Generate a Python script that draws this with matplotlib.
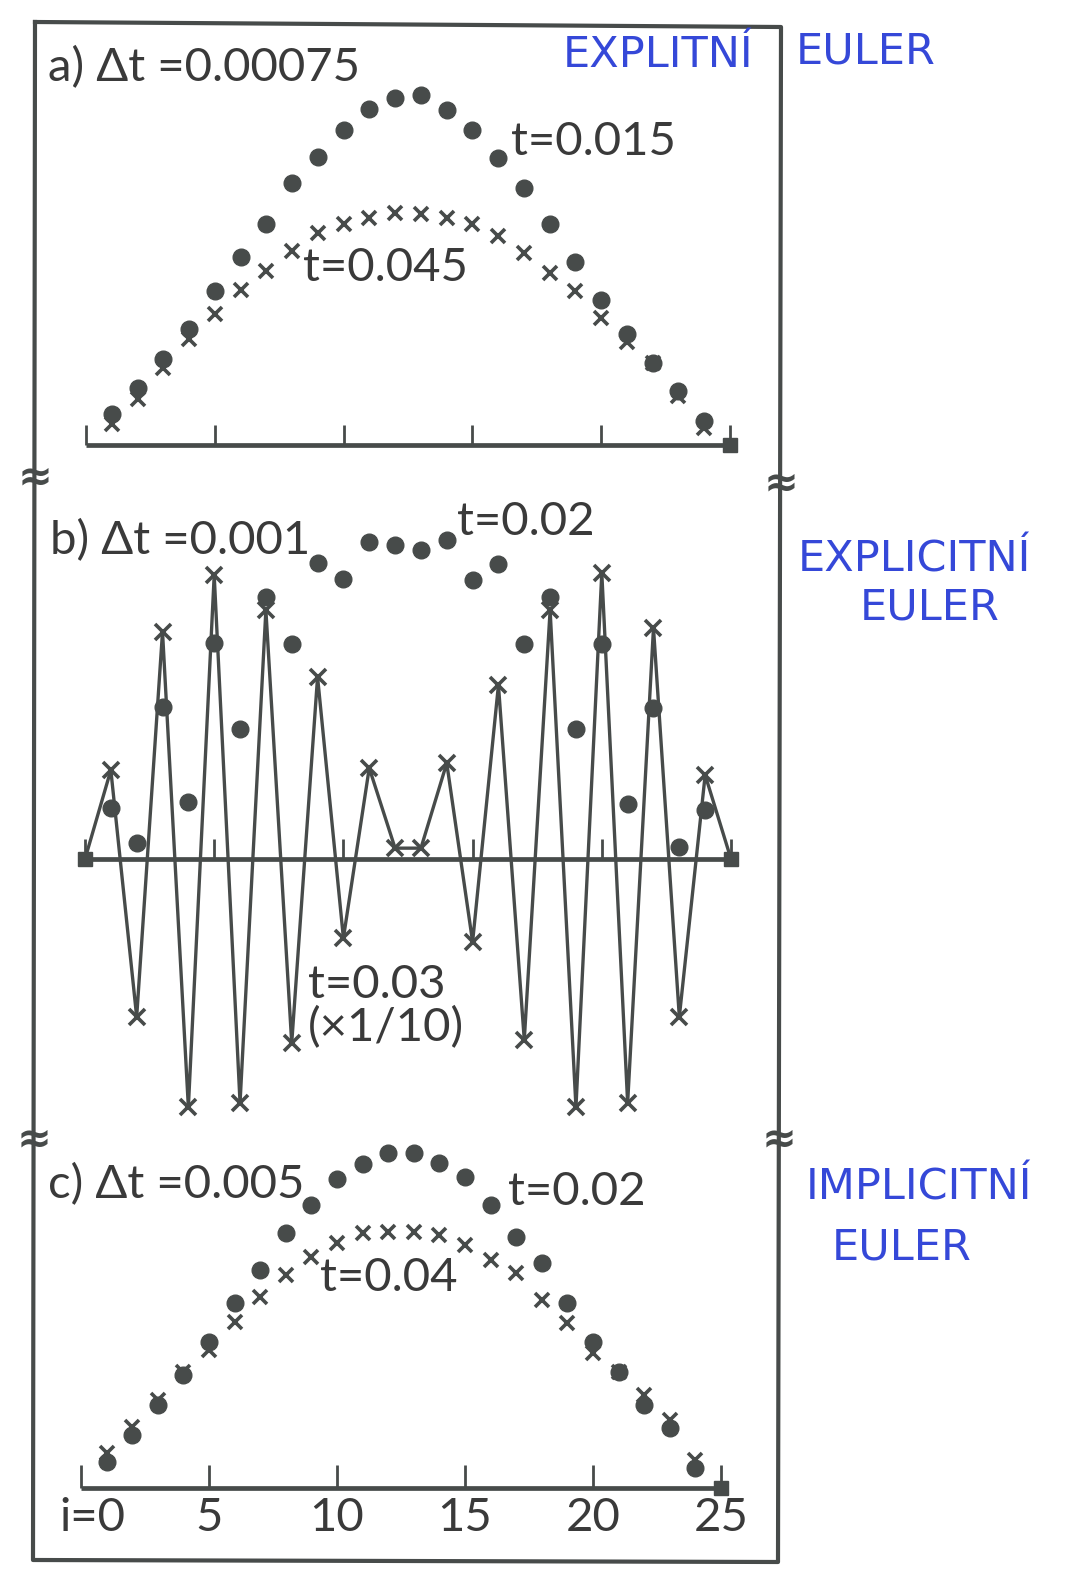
import matplotlib
matplotlib.use("Agg")
import matplotlib.pyplot as plt
import numpy as np

# ---------------- data ----------------
i_nodes = list(range(26))
tick_positions = [0, 5, 10, 15, 20, 25]
tick_labels = ["i=0", "5", "10", "15", "20", "25"]

# a) explicit Euler, dt = 0.00075
a_dots_t0015 = [0, .089, .163, .246, .331, .440, .537, .631, .749, .823, .900, .960, .991,
                1.000, .957, .900, .820, .734, .631, .523, .414, .317, .234, .154, .069, 0]
a_cross_t0045 = [0, .060, .131, .220, .303, .374, .443, .497, .554, .606, .631, .649, .663,
                 .660, .649, .631, .597, .549, .491, .440, .363, .294, .234, .140, .049, 0]

# b) explicit Euler, dt = 0.001
b_dots_t002 = [0, .146, .046, .434, .163, .617, .371, .749, .614, .846, .800, .906, .897,
               .883, .911, .797, .843, .614, .749, .371, .614, .157, .431, .034, .140, 0]
b_cross_t003_x01 = [0, .254, -.451, .649, -.709, .811, -.697, .711, -.526, .520, -.226, .260, .031,
                    .031, .274, -.237, .497, -.517, .711, -.709, .817, -.697, .660, -.451, .240, 0]

# c) implicit Euler, dt = 0.005
c_dots_t002 = [0, .074, .151, .237, .323, .417, .529, .623, .729, .809, .883, .926, .957,
               .957, .929, .889, .809, .717, .643, .529, .417, .331, .237, .171, .057, 0]
c_cross_t004 = [0, .100, .174, .251, .331, .394, .474, .546, .609, .660, .700, .729, .731,
                .731, .723, .694, .651, .614, .537, .471, .386, .331, .266, .194, .080, 0]

# ---------------- styling ----------------
W, H = 1074, 1573
INK = "#474b4a"
TXT = "#3a3a3a"
BLUE = "#3548d8"
FONT = ["Lato", "DejaVu Sans"]
plt.rcParams["font.family"] = FONT

fig = plt.figure(figsize=(W / 100, H / 100), dpi=100)
fig.patch.set_facecolor("white")


def panel_axes(x0, x25, base_py, s=350.0):
    ax = fig.add_axes([0, 0, 1, 1])
    ax.set_axis_off()
    ax.patch.set_alpha(0)
    dx = (x25 - x0) / 25.0
    ax.set_xlim(-x0 / dx, (W - x0) / dx)
    ax.set_ylim(-(H - base_py) / s, base_py / s)
    return ax


def axis_line(ax, tick_len, lw=3.4):
    ax.plot([0, 25], [0, 0], color=INK, lw=lw, solid_capstyle="butt", zorder=2)
    ax.vlines(tick_positions, 0, tick_len, color=INK, lw=2.0, zorder=2)


DOT = dict(ls="none", marker="o", ms=12, color=INK, mec=INK, zorder=3)
CROSS = dict(ls="none", marker="x", ms=10.5, mew=2.6, color=INK, zorder=4)
SQ = dict(ls="none", marker="s", ms=10, color=INK, zorder=3)
TEXT = dict(color=TXT, fontsize=34, fontweight="normal", va="center")

# frame
fr = fig.add_axes([0, 0, 1, 1])
fr.set_axis_off()
fr.patch.set_alpha(0)
fr.set_xlim(0, W)
fr.set_ylim(H, 0)
fr.plot([35, 781, 778, 33, 35], [22, 27, 1562, 1560, 22], color=INK, lw=3.0, zorder=1)
for (bx, by) in [(35, 478), (34, 1140), (781, 484), (779, 1140)]:
    fr.text(bx, by, "≈", fontsize=30, color=INK, ha="center", va="center",
            fontweight="bold", family="DejaVu Sans")

# ---------- panel a ----------
ax = panel_axes(86, 730, 445)
axis_line(ax, 20 / 350)
ia = np.array(i_nodes[1:25])
ax.plot(ia, a_dots_t0015[1:25], **DOT)
ax.plot(ia, a_cross_t0045[1:25], **CROSS)
ax.plot([25], [a_dots_t0015[25]], **SQ)
fr.text(48, 68, "a) Δt =0.00075", ha="left", **TEXT)
fr.text(511, 142, "t=0.015", ha="left", **TEXT)
fr.text(303, 268, "t=0.045", ha="left", **TEXT)

# ---------- panel b ----------
ax = panel_axes(85, 731, 859)
axis_line(ax, 20 / 350)
ax.plot(i_nodes, b_cross_t003_x01, color=INK, lw=2.4, zorder=2)
ib = np.array(i_nodes[1:25])
ax.plot(ib, np.array(b_cross_t003_x01)[1:25], **dict(CROSS, ms=11.5))
ax.plot(ib, b_dots_t002[1:25], **DOT)
ax.plot([0, 25], [b_dots_t002[0], b_dots_t002[25]], **SQ)
fr.text(50, 541, "b) Δt =0.001", ha="left", **TEXT)
fr.text(457, 522, "t=0.02", ha="left", **TEXT)
fr.text(308, 985, "t=0.03", ha="left", **TEXT)
fr.text(308, 1028, "(×1/10)", ha="left", **TEXT)

# ---------- panel c ----------
ax = panel_axes(81, 721, 1488)
axis_line(ax, 23 / 350)
ic = np.array(i_nodes[1:25])
ax.plot(ic, c_dots_t002[1:25], **DOT)
ax.plot(ic, c_cross_t004[1:25], **CROSS)
ax.plot([25], [c_dots_t002[25]], **SQ)
for tp, tl in zip(tick_positions, tick_labels):
    xpos = tp + (0.45 if tp == 0 else 0.0)
    ax.text(xpos, -30 / 350, tl, ha="center", **TEXT)
fr.text(48, 1185, "c) Δt =0.005", ha="left", **TEXT)
fr.text(508, 1192, "t=0.02", ha="left", **TEXT)
fr.text(320, 1278, "t=0.04", ha="left", **TEXT)

# ---------- handwritten notes ----------
HW = dict(color=BLUE, fontsize=31, va="center", ha="left", family=["DejaVu Sans"],
          fontweight="normal")
fr.text(563, 55, "EXPLITNÍ", **HW)
fr.text(796, 52, "EULER", **HW)
fr.text(798, 560, "EXPLICITNÍ", **HW)
fr.text(860, 607, "EULER", **HW)
fr.text(806, 1188, "IMPLICITNÍ", **HW)
fr.text(832, 1247, "EULER", **HW)

fig.savefig("out.png", dpi=100, facecolor="white")
